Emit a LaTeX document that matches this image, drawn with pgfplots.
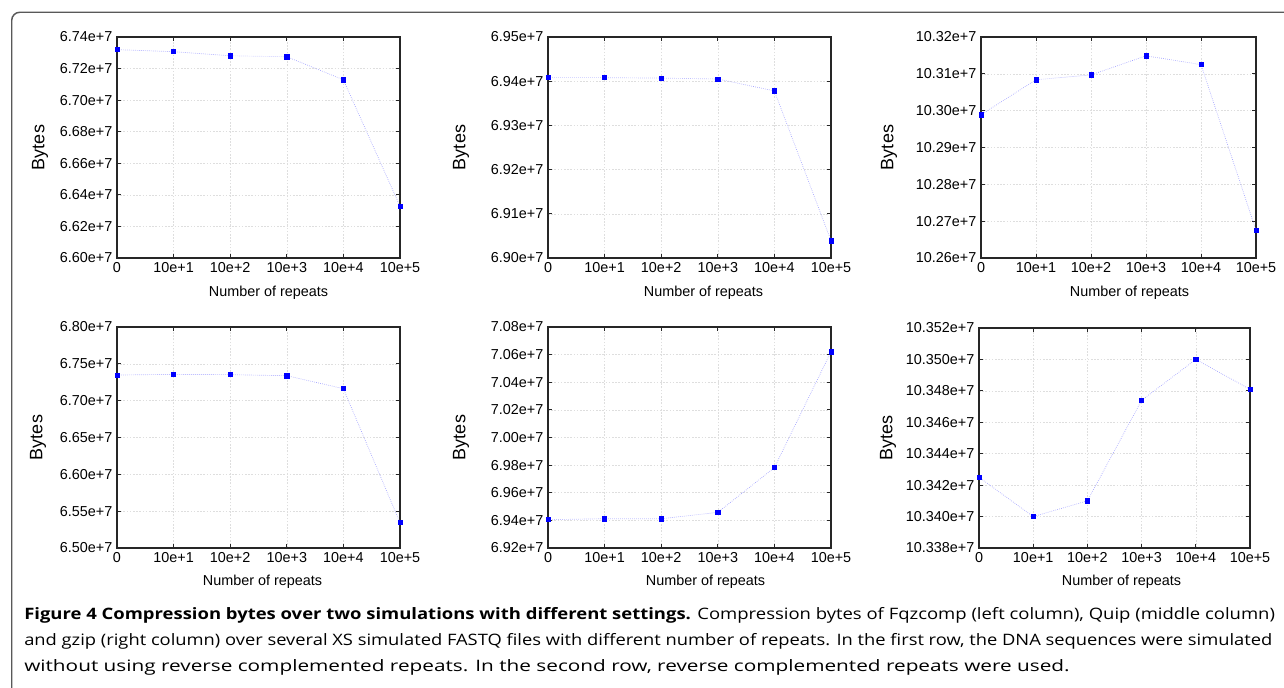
\documentclass[border=0pt]{standalone}
\usepackage{pgfplots}
\pgfplotsset{compat=1.18}
\usepackage{fontspec}
\usepackage{graphicx}
\setmainfont{Liberation Sans}
\newfontfamily\capfont{Open Sans}

\definecolor{linecol}{RGB}{160,160,255}

\pgfplotsset{
  rep/.style={
    scale only axis, anchor=south west, clip=false,
    xmin=0, xmax=5, xtick={0,...,5},
    xticklabels={0,10e+1,10e+2,10e+3,10e+4,10e+5},
    grid=major,
    major grid style={black!13, dash pattern=on 1.2pt off 1.2pt, line width=0.4pt},
    axis line style={black!85, line width=0.8pt},
    tick style={black!85, line width=0.6pt}, major tick length=3pt,
    tick align=inside,
    /pgf/number format/assume math mode=true,
    tick label style={font=\fontsize{10.8}{12}\selectfont},
    xlabel={Number of repeats}, ylabel={Bytes},
    xlabel style={font=\fontsize{10.8}{12}\selectfont, anchor=center},
    ylabel style={font=\fontsize{13.5}{15}\selectfont, anchor=center},
  },
  % label positions: xlabel xshift, xlabel yshift, ylabel xshift
  labpos/.style n args={3}{
    xlabel style={at={([xshift=#1,yshift=#2]axis description cs:0.5,0)}},
    ylabel style={at={([xshift=#3]axis description cs:0,0.5)}},
  },
  ser/.style={color=linecol, densely dotted, line width=0.5pt,
    mark=square*, mark size=1.6pt, mark options={solid, fill=blue, draw=blue}},
}

\begin{document}
\begin{tikzpicture}
\path[use as bounding box] (0,0) rectangle (963pt,-516pt);
\begin{scope}
  \clip (0,0) rectangle (963pt,-516pt);
  \draw[rounded corners=6pt, black!65, line width=1.1pt] (8.8pt,-9.2pt) rectangle (990pt,-540pt);
\end{scope}

% row 1
\begin{axis}[rep, at={(87.75pt,-193.5pt)}, width=212.25pt, height=165.75pt,
  ymin=6.60, ymax=6.74, ytick={6.60,6.62,6.64,6.66,6.68,6.70,6.72,6.74},
  yticklabel={\pgfmathprintnumber[fixed,fixed zerofill,precision=2]{\tick}e+7},
  labpos={7.5pt}{-26.25pt}{-57.75pt}]
\addplot[ser] coordinates {(0,6.7320) (1,6.7307) (2,6.7281) (3,6.7275) (4,6.7129) (5,6.6328)};
\end{axis}

\begin{axis}[rep, at={(411pt,-193.5pt)}, width=212.25pt, height=165.75pt,
  ymin=6.90, ymax=6.95, ytick={6.90,6.91,6.92,6.93,6.94,6.95},
  yticklabel={\pgfmathprintnumber[fixed,fixed zerofill,precision=2]{\tick}e+7},
  labpos={10.5pt}{-26.25pt}{-65.25pt}]
\addplot[ser] coordinates {(0,6.9408) (1,6.9408) (2,6.9407) (3,6.9405) (4,6.9378) (5,6.9039)};
\end{axis}

\begin{axis}[rep, at={(735.75pt,-193.5pt)}, width=206.25pt, height=165.75pt,
  ymin=10.26, ymax=10.32, ytick={10.26,10.27,10.28,10.29,10.30,10.31,10.32},
  yticklabel={\pgfmathprintnumber[fixed,fixed zerofill,precision=2]{\tick}e+7},
  labpos={8.25pt}{-26.25pt}{-69pt}]
\addplot[ser] coordinates {(0,10.2989) (1,10.3084) (2,10.3097) (3,10.3149) (4,10.3125) (5,10.2675)};
\end{axis}

% row 2
\begin{axis}[rep, at={(87.75pt,-411pt)}, width=212.25pt, height=165.75pt,
  ymin=6.50, ymax=6.80, ytick={6.50,6.55,6.60,6.65,6.70,6.75,6.80},
  yticklabel={\pgfmathprintnumber[fixed,fixed zerofill,precision=2]{\tick}e+7},
  labpos={3pt}{-25.5pt}{-59.25pt}]
\addplot[ser] coordinates {(0,6.7348) (1,6.7357) (2,6.7353) (3,6.7339) (4,6.7163) (5,6.5344)};
\end{axis}

\begin{axis}[rep, at={(411pt,-411pt)}, width=212.25pt, height=165.75pt,
  ymin=6.92, ymax=7.08, ytick={6.92,6.94,6.96,6.98,7.00,7.02,7.04,7.06,7.08},
  yticklabel={\pgfmathprintnumber[fixed,fixed zerofill,precision=2]{\tick}e+7},
  labpos={12pt}{-25.5pt}{-65.25pt}]
\addplot[ser] coordinates {(0,6.9405) (1,6.9412) (2,6.9412) (3,6.9458) (4,6.9782) (5,7.0621)};
\end{axis}

\begin{axis}[rep, at={(734.25pt,-411pt)}, width=203.25pt, height=165pt,
  ymin=10.338, ymax=10.352, ytick={10.338,10.340,10.342,10.344,10.346,10.348,10.350,10.352},
  yticklabel={\pgfmathprintnumber[fixed,fixed zerofill,precision=3]{\tick}e+7},
  labpos={5.25pt}{-25.5pt}{-68.25pt}]
\addplot[ser] coordinates {(0,10.3425) (1,10.3400) (2,10.3410) (3,10.3474) (4,10.3500) (5,10.3481)};
\end{axis}

% caption
\node[anchor=base west, inner sep=0pt] at (18pt,-464.25pt)
  {\resizebox{938pt}{\height}{\capfont\fontsize{11.8}{14}\selectfont\textbf{Figure 4 Compression bytes over two simulations with different settings.} Compression bytes of Fqzcomp (left column), Quip (middle column)}};
\node[anchor=base west, inner sep=0pt] at (18pt,-483.75pt)
  {\resizebox{936pt}{\height}{\capfont\fontsize{11.8}{14}\selectfont and gzip (right column) over several XS simulated FASTQ files with different number of repeats. In the first row, the DNA sequences were simulated}};
\node[anchor=base west, inner sep=0pt] at (18pt,-503.25pt)
  {\resizebox{784pt}{\height}{\capfont\fontsize{11.8}{14}\selectfont without using reverse complemented repeats. In the second row, reverse complemented repeats were used.}};
\end{tikzpicture}
\end{document}
